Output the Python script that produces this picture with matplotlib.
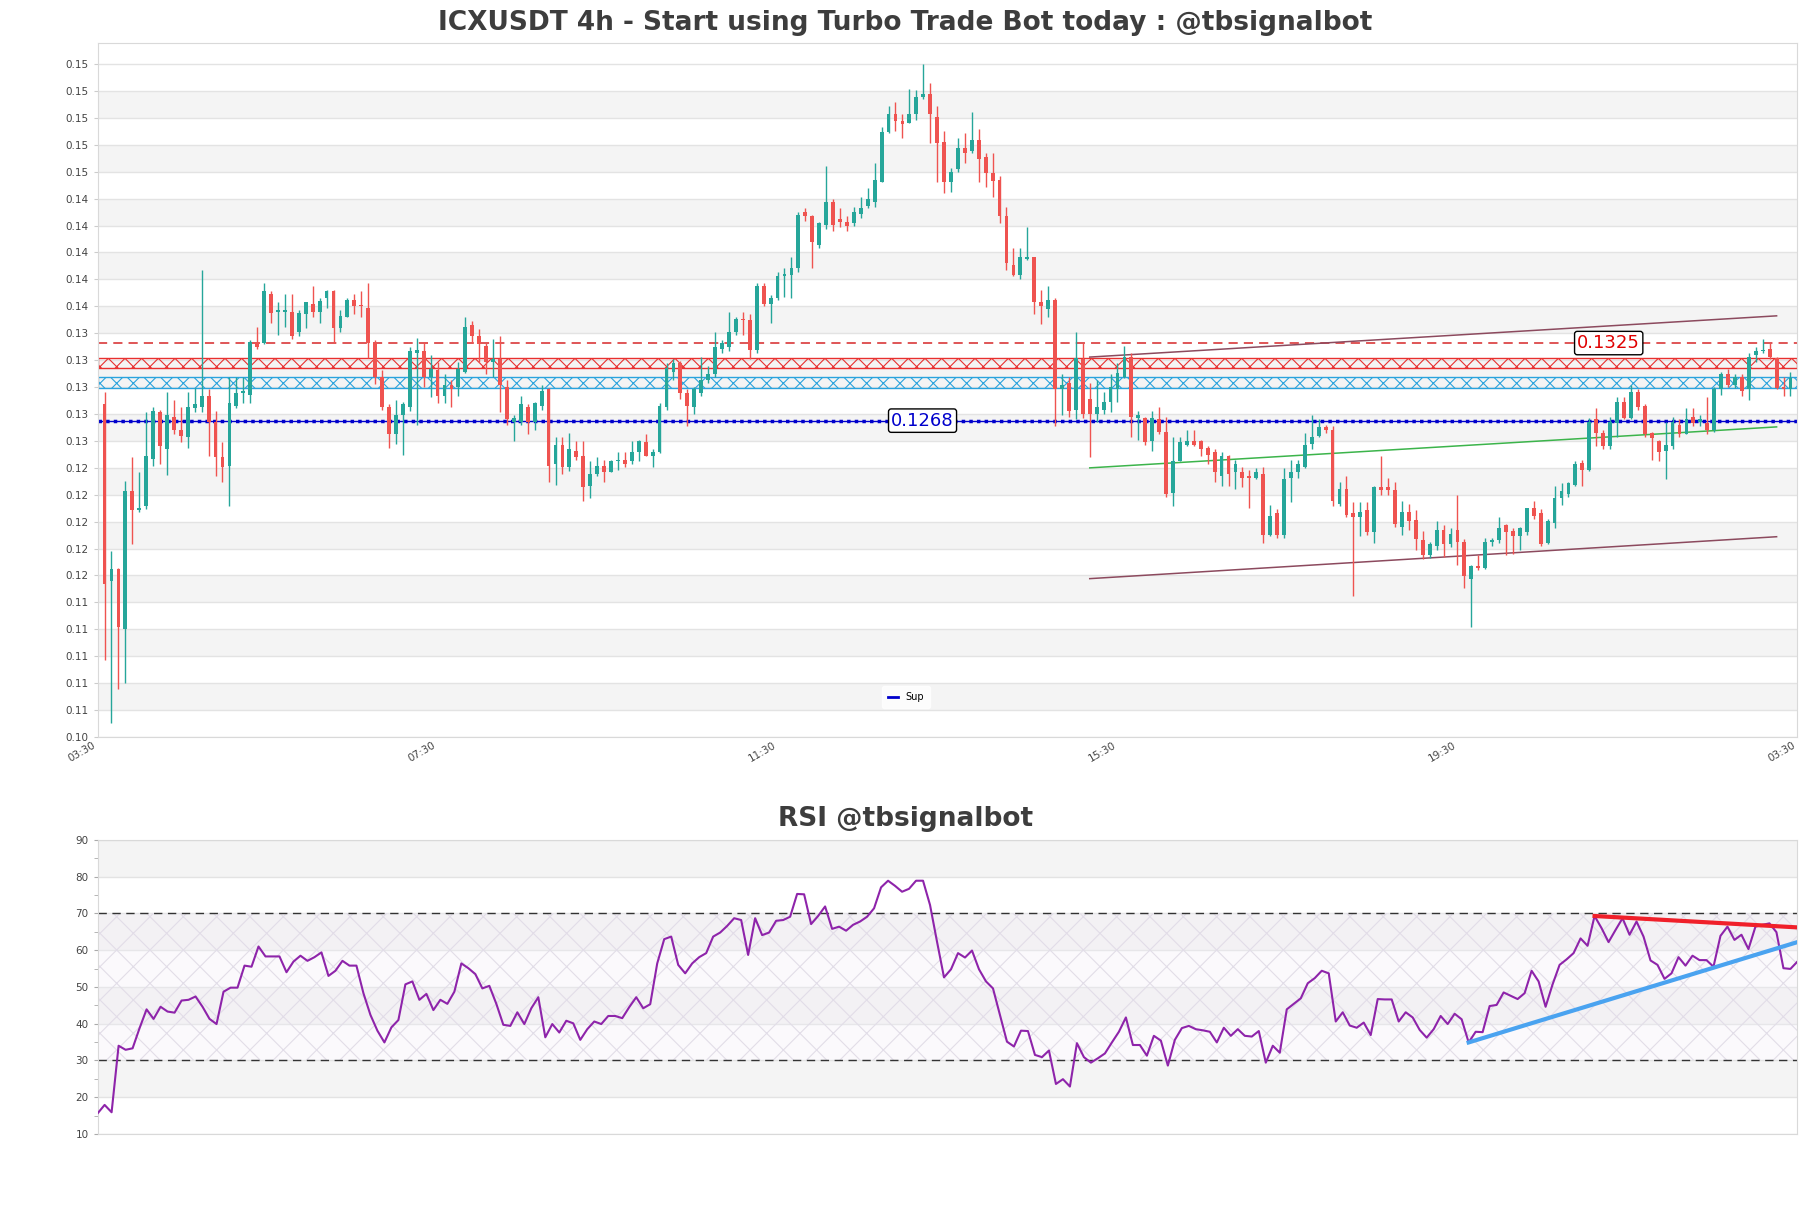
import numpy as np
import matplotlib
matplotlib.use("Agg")
import matplotlib.pyplot as plt
from matplotlib.lines import Line2D
from matplotlib.ticker import FormatStrFormatter, MultipleLocator

# ICXUSDT 4h candles
opens = [0.1280, 0.1150, 0.1159, 0.1115, 0.1216, 0.1202, 0.1205, 0.1240, 0.1274, 0.1247,
         0.1271, 0.1261, 0.1256, 0.1277, 0.1278, 0.1286, 0.1267, 0.1241, 0.1235, 0.1279,
         0.1288, 0.1287, 0.1325, 0.1325, 0.1361, 0.1348, 0.1348, 0.1348, 0.1333, 0.1346,
         0.1354, 0.1348, 0.1358, 0.1363, 0.1336, 0.1344, 0.1357, 0.1353, 0.1351, 0.1325,
         0.1300, 0.1278, 0.1258, 0.1272, 0.1278, 0.1318, 0.1319, 0.1300, 0.1305, 0.1286,
         0.1294, 0.1293, 0.1304, 0.1338, 0.1330, 0.1323, 0.1311, 0.1313, 0.1293, 0.1267,
         0.1267, 0.1278, 0.1267, 0.1279, 0.1291, 0.1236, 0.1250, 0.1234, 0.1246, 0.1242,
         0.1220, 0.1229, 0.1235, 0.1230, 0.1238, 0.1239, 0.1238, 0.1245, 0.1252, 0.1242,
         0.1245, 0.1278, 0.1304, 0.1310, 0.1288, 0.1278, 0.1288, 0.1298, 0.1302, 0.1321,
         0.1322, 0.1333, 0.1343, 0.1342, 0.1320, 0.1367, 0.1354, 0.1358, 0.1374, 0.1375,
         0.1380, 0.1421, 0.1418, 0.1397, 0.1412, 0.1429, 0.1416, 0.1414, 0.1413, 0.1420,
         0.1426, 0.1429, 0.1443, 0.1480, 0.1493, 0.1488, 0.1487, 0.1493, 0.1506, 0.1508,
         0.1491, 0.1473, 0.1443, 0.1453, 0.1468, 0.1466, 0.1474, 0.1462, 0.1450, 0.1445,
         0.1418, 0.1382, 0.1375, 0.1387, 0.1388, 0.1355, 0.1350, 0.1357, 0.1291, 0.1296,
         0.1276, 0.1313, 0.1284, 0.1273, 0.1276, 0.1282, 0.1291, 0.1300, 0.1315, 0.1270,
         0.1270, 0.1253, 0.1269, 0.1260, 0.1215, 0.1238, 0.1250, 0.1253, 0.1253, 0.1248,
         0.1245, 0.1227, 0.1242, 0.1230, 0.1230, 0.1227, 0.1226, 0.1229, 0.1184, 0.1200,
         0.1184, 0.1226, 0.1230, 0.1234, 0.1251, 0.1257, 0.1263, 0.1261, 0.1207, 0.1218,
         0.1200, 0.1197, 0.1202, 0.1186, 0.1219, 0.1219, 0.1217, 0.1190, 0.1201, 0.1195,
         0.1180, 0.1169, 0.1176, 0.1188, 0.1177, 0.1188, 0.1179, 0.1152, 0.1161, 0.1160,
         0.1179, 0.1180, 0.1191, 0.1187, 0.1183, 0.1186, 0.1204, 0.1200, 0.1178, 0.1193,
         0.1211, 0.1214, 0.1221, 0.1237, 0.1232, 0.1269, 0.1259, 0.1249, 0.1266, 0.1282,
         0.1270, 0.1289, 0.1279, 0.1259, 0.1253, 0.1246, 0.1249, 0.1265, 0.1258, 0.1271,
         0.1267, 0.1266, 0.1261, 0.1291, 0.1302, 0.1294, 0.1300, 0.1291, 0.1316, 0.1319,
         0.1321, 0.1314, 0.1293, 0.1291]
highs = [0.1289, 0.1172, 0.1160, 0.1224, 0.1241, 0.1230, 0.1274, 0.1278, 0.1276, 0.1289,
         0.1283, 0.1278, 0.1289, 0.1292, 0.1379, 0.1291, 0.1275, 0.1252, 0.1300, 0.1300,
         0.1300, 0.1327, 0.1337, 0.1369, 0.1363, 0.1355, 0.1361, 0.1361, 0.1349, 0.1355,
         0.1367, 0.1358, 0.1364, 0.1364, 0.1349, 0.1358, 0.1361, 0.1363, 0.1369, 0.1327,
         0.1305, 0.1280, 0.1283, 0.1282, 0.1322, 0.1329, 0.1326, 0.1316, 0.1311, 0.1302,
         0.1298, 0.1311, 0.1344, 0.1341, 0.1335, 0.1325, 0.1328, 0.1330, 0.1298, 0.1272,
         0.1286, 0.1280, 0.1282, 0.1294, 0.1292, 0.1256, 0.1256, 0.1259, 0.1253, 0.1253,
         0.1238, 0.1241, 0.1239, 0.1239, 0.1245, 0.1245, 0.1253, 0.1254, 0.1258, 0.1247,
         0.1281, 0.1310, 0.1313, 0.1312, 0.1291, 0.1293, 0.1315, 0.1308, 0.1333, 0.1327,
         0.1348, 0.1344, 0.1348, 0.1346, 0.1369, 0.1369, 0.1360, 0.1377, 0.1380, 0.1388,
         0.1421, 0.1424, 0.1419, 0.1414, 0.1455, 0.1431, 0.1424, 0.1418, 0.1425, 0.1432,
         0.1439, 0.1457, 0.1484, 0.1499, 0.1502, 0.1493, 0.1512, 0.1511, 0.1530, 0.1516,
         0.1499, 0.1481, 0.1454, 0.1476, 0.1479, 0.1495, 0.1482, 0.1465, 0.1465, 0.1448,
         0.1425, 0.1395, 0.1395, 0.1410, 0.1388, 0.1364, 0.1367, 0.1358, 0.1302, 0.1300,
         0.1333, 0.1325, 0.1296, 0.1298, 0.1289, 0.1302, 0.1310, 0.1323, 0.1318, 0.1275,
         0.1271, 0.1275, 0.1278, 0.1271, 0.1256, 0.1256, 0.1261, 0.1261, 0.1254, 0.1249,
         0.1247, 0.1245, 0.1243, 0.1239, 0.1234, 0.1232, 0.1233, 0.1234, 0.1206, 0.1203,
         0.1233, 0.1239, 0.1239, 0.1259, 0.1272, 0.1269, 0.1265, 0.1264, 0.1223, 0.1227,
         0.1208, 0.1208, 0.1208, 0.1220, 0.1242, 0.1226, 0.1223, 0.1209, 0.1207, 0.1202,
         0.1187, 0.1179, 0.1194, 0.1191, 0.1189, 0.1213, 0.1181, 0.1162, 0.1169, 0.1182,
         0.1182, 0.1197, 0.1192, 0.1189, 0.1190, 0.1204, 0.1209, 0.1203, 0.1196, 0.1220,
         0.1222, 0.1223, 0.1238, 0.1239, 0.1270, 0.1277, 0.1261, 0.1271, 0.1285, 0.1285,
         0.1294, 0.1291, 0.1280, 0.1260, 0.1254, 0.1267, 0.1271, 0.1269, 0.1277, 0.1277,
         0.1272, 0.1285, 0.1293, 0.1304, 0.1306, 0.1302, 0.1302, 0.1318, 0.1322, 0.1328,
         0.1325, 0.1315, 0.1300, 0.1304]
lows = [0.1092, 0.1046, 0.1071, 0.1075, 0.1177, 0.1201, 0.1203, 0.1235, 0.1236, 0.1228,
        0.1258, 0.1252, 0.1248, 0.1274, 0.1274, 0.1242, 0.1227, 0.1223, 0.1205, 0.1277,
        0.1281, 0.1281, 0.1321, 0.1324, 0.1340, 0.1331, 0.1337, 0.1328, 0.1330, 0.1336,
        0.1344, 0.1340, 0.1351, 0.1325, 0.1333, 0.1344, 0.1346, 0.1344, 0.1314, 0.1295,
        0.1276, 0.1248, 0.1251, 0.1243, 0.1275, 0.1265, 0.1293, 0.1285, 0.1281, 0.1281,
        0.1278, 0.1286, 0.1303, 0.1325, 0.1311, 0.1302, 0.1300, 0.1274, 0.1265, 0.1253,
        0.1265, 0.1258, 0.1261, 0.1276, 0.1223, 0.1221, 0.1229, 0.1231, 0.1239, 0.1209,
        0.1211, 0.1227, 0.1223, 0.1230, 0.1232, 0.1234, 0.1236, 0.1238, 0.1242, 0.1234,
        0.1244, 0.1276, 0.1298, 0.1284, 0.1264, 0.1273, 0.1286, 0.1296, 0.1300, 0.1318,
        0.1319, 0.1331, 0.1331, 0.1313, 0.1318, 0.1352, 0.1340, 0.1357, 0.1359, 0.1358,
        0.1377, 0.1415, 0.1380, 0.1395, 0.1409, 0.1407, 0.1410, 0.1407, 0.1411, 0.1417,
        0.1424, 0.1425, 0.1443, 0.1479, 0.1481, 0.1476, 0.1487, 0.1489, 0.1504, 0.1472,
        0.1443, 0.1435, 0.1436, 0.1451, 0.1457, 0.1465, 0.1443, 0.1440, 0.1432, 0.1413,
        0.1379, 0.1374, 0.1372, 0.1386, 0.1346, 0.1339, 0.1344, 0.1264, 0.1272, 0.1271,
        0.1269, 0.1270, 0.1241, 0.1267, 0.1273, 0.1274, 0.1282, 0.1299, 0.1256, 0.1254,
        0.1250, 0.1246, 0.1258, 0.1212, 0.1205, 0.1238, 0.1249, 0.1249, 0.1242, 0.1236,
        0.1223, 0.1220, 0.1220, 0.1218, 0.1219, 0.1204, 0.1225, 0.1178, 0.1183, 0.1182,
        0.1182, 0.1208, 0.1226, 0.1233, 0.1247, 0.1256, 0.1259, 0.1205, 0.1205, 0.1197,
        0.1139, 0.1183, 0.1184, 0.1178, 0.1213, 0.1213, 0.1190, 0.1184, 0.1188, 0.1173,
        0.1166, 0.1167, 0.1173, 0.1168, 0.1175, 0.1162, 0.1145, 0.1116, 0.1158, 0.1159,
        0.1176, 0.1178, 0.1169, 0.1170, 0.1173, 0.1184, 0.1196, 0.1176, 0.1177, 0.1189,
        0.1206, 0.1212, 0.1220, 0.1220, 0.1231, 0.1249, 0.1247, 0.1247, 0.1256, 0.1269,
        0.1269, 0.1276, 0.1256, 0.1239, 0.1238, 0.1225, 0.1247, 0.1256, 0.1258, 0.1264,
        0.1264, 0.1258, 0.1260, 0.1287, 0.1293, 0.1292, 0.1286, 0.1283, 0.1311, 0.1318,
        0.1313, 0.1291, 0.1286, 0.1286]
closes = [0.1148, 0.1159, 0.1116, 0.1216, 0.1202, 0.1204, 0.1242, 0.1275, 0.1249, 0.1272,
          0.1261, 0.1257, 0.1278, 0.1280, 0.1286, 0.1267, 0.1241, 0.1234, 0.1281, 0.1288,
          0.1290, 0.1326, 0.1322, 0.1363, 0.1347, 0.1349, 0.1349, 0.1330, 0.1347, 0.1355,
          0.1348, 0.1356, 0.1363, 0.1336, 0.1345, 0.1357, 0.1352, 0.1352, 0.1325, 0.1300,
          0.1278, 0.1258, 0.1272, 0.1280, 0.1319, 0.1320, 0.1300, 0.1306, 0.1286, 0.1294,
          0.1291, 0.1306, 0.1337, 0.1330, 0.1324, 0.1311, 0.1313, 0.1294, 0.1269, 0.1270,
          0.1280, 0.1267, 0.1281, 0.1290, 0.1235, 0.1250, 0.1234, 0.1247, 0.1241, 0.1219,
          0.1229, 0.1235, 0.1230, 0.1238, 0.1239, 0.1236, 0.1245, 0.1253, 0.1242, 0.1245,
          0.1279, 0.1307, 0.1310, 0.1288, 0.1279, 0.1291, 0.1298, 0.1302, 0.1322, 0.1325,
          0.1333, 0.1343, 0.1342, 0.1320, 0.1367, 0.1354, 0.1358, 0.1374, 0.1376, 0.1380,
          0.1419, 0.1418, 0.1399, 0.1413, 0.1429, 0.1412, 0.1414, 0.1411, 0.1421, 0.1424,
          0.1431, 0.1445, 0.1480, 0.1493, 0.1488, 0.1486, 0.1493, 0.1506, 0.1508, 0.1493,
          0.1472, 0.1443, 0.1451, 0.1468, 0.1465, 0.1474, 0.1460, 0.1450, 0.1444, 0.1418,
          0.1384, 0.1375, 0.1388, 0.1388, 0.1355, 0.1352, 0.1357, 0.1291, 0.1294, 0.1275,
          0.1314, 0.1273, 0.1273, 0.1278, 0.1282, 0.1293, 0.1303, 0.1315, 0.1271, 0.1272,
          0.1252, 0.1270, 0.1260, 0.1214, 0.1238, 0.1252, 0.1253, 0.1250, 0.1247, 0.1243,
          0.1230, 0.1242, 0.1229, 0.1236, 0.1226, 0.1226, 0.1230, 0.1184, 0.1198, 0.1184,
          0.1225, 0.1230, 0.1236, 0.1250, 0.1256, 0.1263, 0.1261, 0.1209, 0.1218, 0.1199,
          0.1197, 0.1201, 0.1186, 0.1219, 0.1217, 0.1217, 0.1192, 0.1201, 0.1194, 0.1181,
          0.1169, 0.1177, 0.1188, 0.1177, 0.1185, 0.1179, 0.1154, 0.1161, 0.1160, 0.1179,
          0.1180, 0.1189, 0.1186, 0.1183, 0.1189, 0.1204, 0.1198, 0.1177, 0.1194, 0.1211,
          0.1216, 0.1222, 0.1236, 0.1232, 0.1267, 0.1259, 0.1249, 0.1267, 0.1282, 0.1270,
          0.1289, 0.1278, 0.1258, 0.1255, 0.1245, 0.1250, 0.1267, 0.1258, 0.1269, 0.1266,
          0.1269, 0.1261, 0.1291, 0.1302, 0.1294, 0.1300, 0.1290, 0.1315, 0.1319, 0.1320,
          0.1315, 0.1292, 0.1291, 0.1299]

rsi = [15.6, 17.9, 15.9, 34.0, 32.9, 33.3, 38.8, 43.9, 41.3, 44.6,
       43.3, 43.0, 46.3, 46.5, 47.4, 44.6, 41.3, 39.9, 48.7, 49.8,
       49.8, 55.8, 55.5, 61.0, 58.3, 58.3, 58.3, 54.0, 56.9, 58.5,
       57.1, 58.1, 59.4, 53.0, 54.4, 57.1, 55.8, 55.8, 48.3, 42.4,
       38.1, 34.9, 39.0, 41.0, 50.7, 51.5, 46.5, 48.1, 43.7, 46.5,
       45.4, 48.7, 56.4, 55.1, 53.5, 49.6, 50.3, 45.4, 39.7, 39.4,
       43.1, 39.9, 44.2, 47.2, 36.3, 39.9, 37.6, 40.8, 40.1, 35.6,
       38.5, 40.6, 39.9, 42.1, 42.1, 41.5, 44.5, 47.2, 44.2, 45.3,
       56.4, 63.0, 63.7, 56.0, 53.7, 56.4, 58.1, 59.2, 63.7, 64.8,
       66.6, 68.7, 68.2, 58.7, 68.7, 64.1, 64.8, 68.0, 68.2, 69.1,
       75.3, 75.2, 67.1, 69.3, 71.9, 65.8, 66.4, 65.3, 66.9, 67.8,
       69.1, 71.4, 77.1, 78.9, 77.5, 75.9, 76.7, 78.9, 78.9, 72.3,
       62.3, 52.6, 54.8, 59.2, 58.0, 59.9, 54.8, 51.5, 49.6, 42.4,
       35.1, 33.8, 38.1, 38.0, 31.5, 30.9, 32.7, 23.6, 24.9, 22.9,
       34.7, 30.9, 29.4, 30.6, 31.9, 34.9, 37.8, 41.7, 34.2, 34.2,
       31.3, 36.7, 35.4, 28.6, 35.6, 38.8, 39.4, 38.5, 38.2, 37.8,
       34.9, 38.9, 36.7, 38.5, 36.7, 36.5, 38.0, 29.4, 34.0, 32.1,
       43.9, 45.4, 46.9, 51.0, 52.4, 54.4, 53.7, 40.6, 43.1, 39.5,
       38.9, 40.3, 36.9, 46.7, 46.6, 46.6, 40.6, 43.1, 41.7, 38.3,
       36.2, 38.5, 42.1, 39.9, 42.7, 41.2, 34.9, 37.8, 37.7, 44.8,
       45.1, 48.5, 47.6, 46.7, 48.3, 54.4, 51.5, 44.6, 50.7, 56.0,
       57.5, 59.2, 63.2, 61.2, 69.3, 66.0, 62.2, 65.5, 68.7, 64.2,
       67.8, 63.7, 57.2, 56.0, 52.2, 53.7, 58.1, 55.8, 58.5, 57.3,
       57.3, 55.5, 63.9, 66.4, 62.8, 64.2, 60.3, 66.4, 66.9, 67.3,
       64.9, 55.1, 54.9, 56.9]

time_labels = ["03:30", "07:30", "11:30", "15:30", "19:30", "03:30"]

# levels drawn on the price panel
sup_level = 0.1268
res_level = 0.1325
red_zone = [0.1307, 0.1314]
blue_zone = [0.1292, 0.1300]
# channel lines: start/end candle and prices
chan_x = [142, 241]
chan_upper = [0.13147, 0.13450]
chan_mid = [0.12333, 0.12634]
chan_lower = [0.11519, 0.11827]
# rsi trend lines
rsi_up_x = [196, 243]
rsi_up_y = [34.9, 62.2]
rsi_dn_x = [214, 243]
rsi_dn_y = [69.3, 66.2]

up_col = '#26a69a'
dn_col = '#ef5350'
txt_col = '#3d3d3d'

n = len(closes)
x = np.arange(n)

fig = plt.figure(figsize=(18.11, 12.08), dpi=100)
ax = fig.add_axes([0.0539, 0.3899, 0.9386, 0.5743])
rax = fig.add_axes([0.0539, 0.0613, 0.9386, 0.2434])

# ---- price panel ----
ylo = min(lows) * 0.99
yhi = max(highs) * 1.01
yticks = np.linspace(ylo, max(highs), 26)
for k in range(len(yticks) - 1):
    if k % 2 == 1:
        ax.axhspan(yticks[k], yticks[k + 1], color='#f4f4f4', zorder=0, lw=0)
for t in yticks:
    ax.axhline(t, color='#e3e3e3', lw=1, zorder=0.5)

cols = [up_col if c >= o else dn_col for o, c in zip(opens, closes)]
ax.vlines(x, lows, highs, colors=cols, lw=1, zorder=3)
bottoms = [min(o, c) for o, c in zip(opens, closes)]
heights = [max(abs(c - o), 0.00006) for o, c in zip(opens, closes)]
ax.bar(x, heights, bottom=bottoms, width=0.55, color=cols, zorder=4, lw=0)

ax.axhline(res_level, color='#d62728', ls=(0, (6, 4)), lw=1.1, zorder=2)
plt.rcParams['hatch.linewidth'] = 0.8
ax.axhspan(red_zone[0], red_zone[1], facecolor='none', edgecolor='#e8302f',
           hatch='xx', lw=1, zorder=2)
ax.axhspan(blue_zone[0], blue_zone[1], facecolor='none', edgecolor='#2aa3dd',
           hatch='xx', lw=1, zorder=2)
ax.axhline(sup_level, color='#0000cc', lw=1, zorder=2)
ax.axhline(sup_level, color='#0000cc', lw=2.5, ls=(0, (1, 1.2)), zorder=2)

ax.plot(chan_x, chan_upper, color='#8c4a5e', lw=1.1, zorder=2)
ax.plot(chan_x, chan_lower, color='#8c4a5e', lw=1.1, zorder=2)
ax.plot(chan_x, chan_mid, color='#3cb44b', lw=1.1, zorder=2)

ax.text(216.8, res_level, f"{res_level:.4f}", color='#e00000', fontsize=13,
        ha='center', va='center', zorder=6,
        bbox=dict(boxstyle='round,pad=0.15', fc='white', ec='black', lw=1))
ax.text(117.9, sup_level, f"{sup_level:.4f}", color='#0000cc', fontsize=13,
        ha='center', va='center', zorder=6,
        bbox=dict(boxstyle='round,pad=0.15', fc='white', ec='black', lw=1))

sup_handle = Line2D([], [], color='#0000cc', lw=2)
ax.legend([sup_handle], ['Sup'], loc='lower center', bbox_to_anchor=(0.4755, 0.035),
          fontsize=7, frameon=True, facecolor='white', edgecolor='white',
          handlelength=1.0, borderpad=0.6)

ax.set_xlim(-1, n)
ax.set_ylim(ylo, yhi)
ax.set_yticks(yticks)
ax.yaxis.set_major_formatter(FormatStrFormatter('%.2f'))
ax.set_xticks(np.linspace(-1, n, 6))
ax.set_xticklabels(time_labels, rotation=30, ha='right')
ax.tick_params(axis='y', labelsize=7.5, labelcolor='#444444', length=3, color='#cccccc')
ax.tick_params(axis='x', labelsize=7.5, labelcolor='#444444', length=0, pad=2)
for s in ax.spines.values():
    s.set_color('#d9d9d9')

# ---- RSI panel ----
for k in range(10, 90, 10):
    if (k // 10) % 2 == 0:
        rax.axhspan(k, k + 10, color='#f4f4f4', zorder=0, lw=0)
for t in range(10, 100, 10):
    rax.axhline(t, color='#e3e3e3', lw=1, zorder=0.5)
rax.axhspan(30, 70, facecolor=(0.95, 0.93, 0.97, 0.3), edgecolor='#e2dde8',
            hatch='x', lw=0, zorder=1)
rax.axhline(70, color='#333333', ls=(0, (6, 4)), lw=1, zorder=2)
rax.axhline(30, color='#333333', ls=(0, (6, 4)), lw=1, zorder=2)
rax.plot(x, rsi, color='#8e24aa', lw=1.5, zorder=3)
rax.plot(rsi_dn_x, rsi_dn_y, color='#f0202a', lw=3, zorder=4)
rax.plot(rsi_up_x, rsi_up_y, color='#4aa3f0', lw=3, zorder=4)

rax.set_xlim(0, n - 1)
rax.set_ylim(10, 90)
rax.yaxis.set_major_locator(MultipleLocator(10))
rax.yaxis.set_minor_locator(MultipleLocator(5))
rax.set_xticks([])
rax.tick_params(axis='y', which='both', labelsize=7.5, labelcolor='#444444',
                length=3, color='#aaaaaa')
for s in rax.spines.values():
    s.set_color('#d9d9d9')

fig.text(0.5, 1 - 23 / 1208, "ICXUSDT 4h - Start using Turbo Trade Bot today : @tbsignalbot",
         ha='center', va='center', fontsize=19, fontweight='bold', color=txt_col)
fig.text(0.5, 1 - 819 / 1208, "RSI @tbsignalbot",
         ha='center', va='center', fontsize=19, fontweight='bold', color=txt_col)

fig.savefig("out.png", dpi=100)
